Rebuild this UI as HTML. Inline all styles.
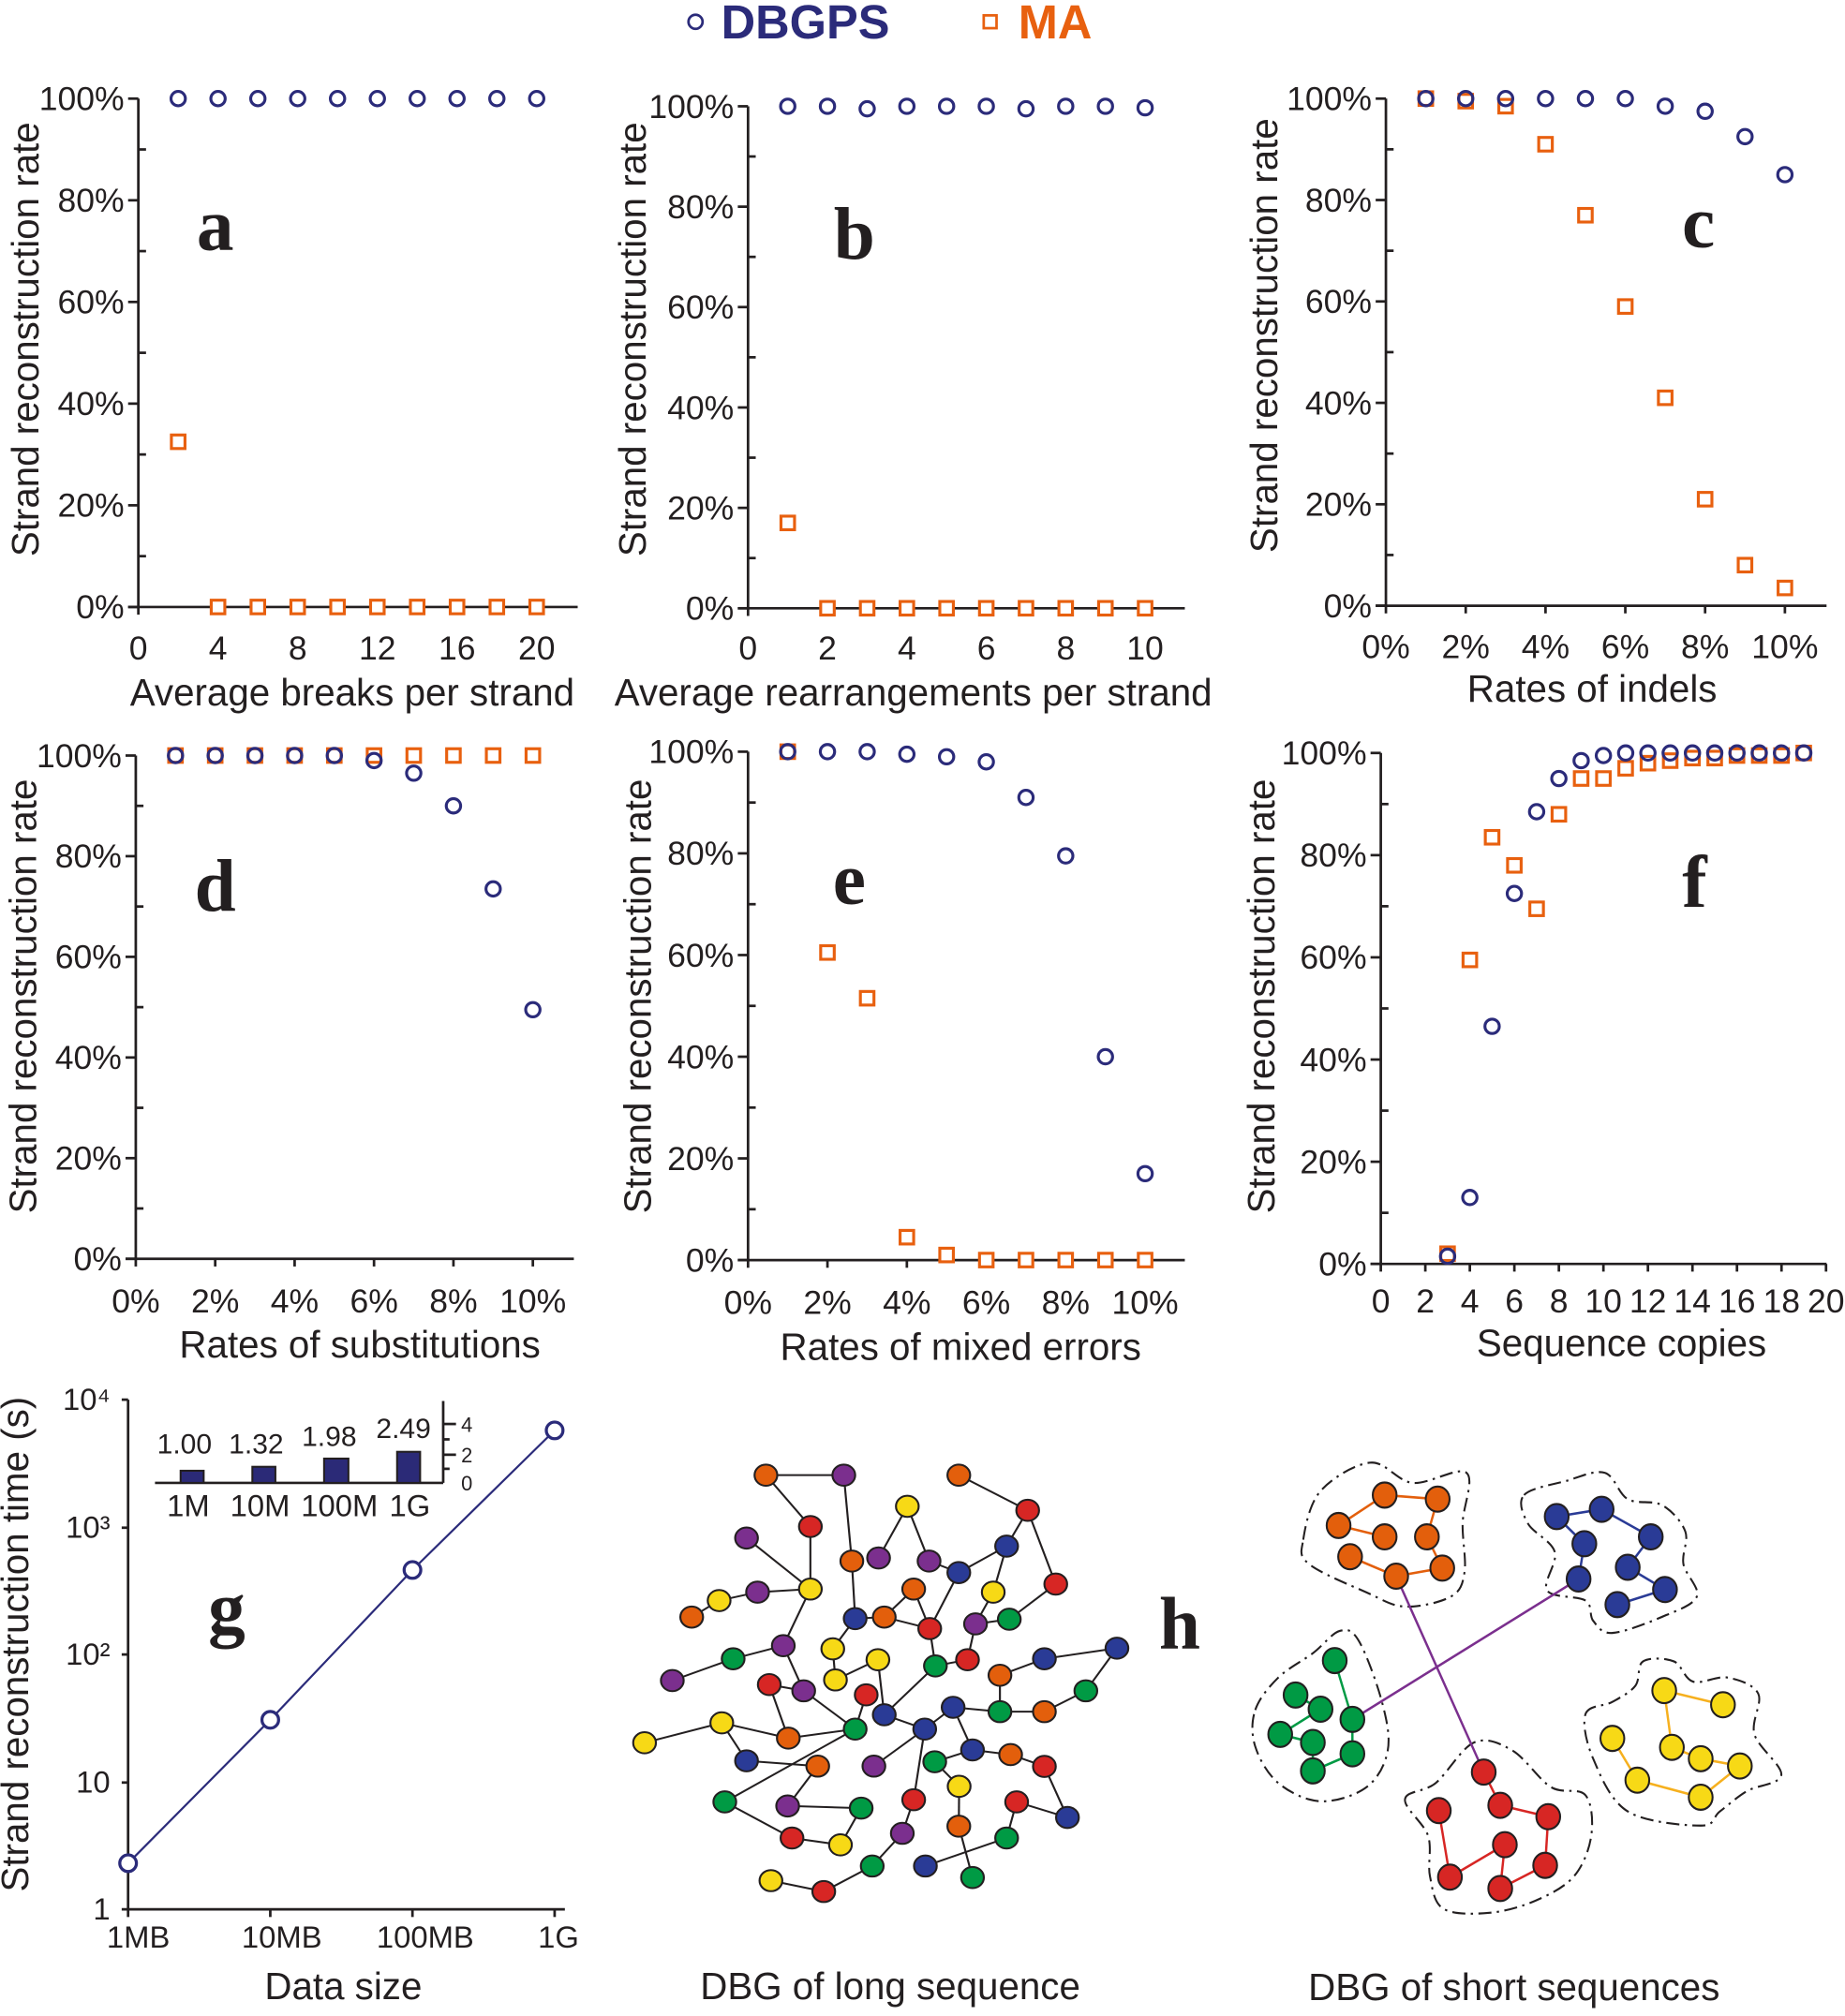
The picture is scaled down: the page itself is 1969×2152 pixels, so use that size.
<!DOCTYPE html>
<html><head><meta charset="utf-8"><style>
html,body{margin:0;padding:0;background:#fff}
svg{display:block}
text{font-family:"Liberation Sans",sans-serif;fill:#231f20}
.t{font-size:26px}
.at{font-size:29.5px}
.yl{font-size:29.5px}
.lt{font-family:"Liberation Serif",serif;font-weight:bold;font-size:58px}
</style></head><body>
<svg id="s" width="1969" height="2152" viewBox="0 0 1440.4 1574.3" xmlns="http://www.w3.org/2000/svg">
<g id="plots"></g>
<!-- legend -->
<circle cx="543" cy="17" r="5.5" fill="none" stroke="#2b2b7a" stroke-width="2"/>
<text x="563" y="30" style="font-size:37px;font-weight:bold;fill:#2b2b7a">DBGPS</text>
<rect x="768" y="12" width="10" height="10" fill="none" stroke="#e8600f" stroke-width="2"/>
<text x="795" y="30" style="font-size:37px;font-weight:bold;fill:#e8600f">MA</text>

<!-- titles -->
<text class="at" x="275" y="551" text-anchor="middle">Average breaks per strand</text>
<text class="at" x="713" y="551" text-anchor="middle">Average rearrangements per strand</text>
<text class="at" x="1243" y="548" text-anchor="middle">Rates of indels</text>
<text class="at" x="281" y="1060" text-anchor="middle">Rates of substitutions</text>
<text class="at" x="750" y="1062" text-anchor="middle">Rates of mixed errors</text>
<text class="at" x="1266" y="1059" text-anchor="middle">Sequence copies</text>

<text class="yl" transform="translate(30,265) rotate(-90)" text-anchor="middle">Strand reconstruction rate</text>
<text class="yl" transform="translate(504,265) rotate(-90)" text-anchor="middle">Strand reconstruction rate</text>
<text class="yl" transform="translate(997,262) rotate(-90)" text-anchor="middle">Strand reconstruction rate</text>
<text class="yl" transform="translate(28,778) rotate(-90)" text-anchor="middle">Strand reconstruction rate</text>
<text class="yl" transform="translate(508,778) rotate(-90)" text-anchor="middle">Strand reconstruction rate</text>
<text class="yl" transform="translate(995,778) rotate(-90)" text-anchor="middle">Strand reconstruction rate</text>

<text class="lt" x="168" y="195" text-anchor="middle">a</text>
<text class="lt" x="667" y="202" text-anchor="middle">b</text>
<text class="lt" x="1326" y="193" text-anchor="middle">c</text>
<text class="lt" x="168" y="711" text-anchor="middle">d</text>
<text class="lt" x="663" y="706" text-anchor="middle">e</text>
<text class="lt" x="1323" y="708" text-anchor="middle">f</text>

<g class="t" id="tl"></g>

<!-- panel g -->
<g stroke="#231f20" stroke-width="2" fill="none">
<line x1="100" y1="1093" x2="100" y2="1491"/>
<line x1="95" y1="1491" x2="441" y2="1491"/>
<line x1="95" y1="1093" x2="100" y2="1093"/><line x1="95" y1="1193" x2="100" y2="1193"/>
<line x1="95" y1="1292" x2="100" y2="1292"/><line x1="95" y1="1392" x2="100" y2="1392"/>
<line x1="100" y1="1491" x2="100" y2="1497"/><line x1="211" y1="1491" x2="211" y2="1497"/>
<line x1="322" y1="1491" x2="322" y2="1497"/><line x1="433" y1="1491" x2="433" y2="1497"/>
<line x1="121" y1="1158" x2="346" y2="1158"/>
<line x1="346" y1="1094" x2="346" y2="1158"/>
<line x1="346" y1="1112" x2="356" y2="1112"/><line x1="346" y1="1136" x2="356" y2="1136"/>
<line x1="346" y1="1124" x2="351" y2="1124"/><line x1="346" y1="1147" x2="351" y2="1147"/>
</g>
<g fill="#2b2a77" stroke="#231f20" stroke-width="1.5">
<rect x="141" y="1148.5" width="18" height="9.5"/>
<rect x="197" y="1145.4" width="18" height="12.6"/>
<rect x="253" y="1139" width="19" height="19"/>
<rect x="310" y="1133.7" width="18" height="24.3"/>
</g>
<polyline points="100,1455 211,1343 322,1226 433,1117" fill="none" stroke="#2b2b7a" stroke-width="1.6"/>
<g fill="#fff" stroke="#2b2b7a" stroke-width="2.4">
<circle cx="100" cy="1455" r="6.5"/><circle cx="211" cy="1343" r="6.5"/>
<circle cx="322" cy="1226" r="6.5"/><circle cx="433" cy="1117" r="6.5"/>
</g>
<g style="font-size:24px">
<text x="86" y="1101" text-anchor="end">10⁴</text>
<text x="86" y="1201" text-anchor="end">10³</text>
<text x="86" y="1300" text-anchor="end">10²</text>
<text x="86" y="1400" text-anchor="end">10</text>
<text x="86" y="1499" text-anchor="end">1</text>
<text x="108" y="1521" text-anchor="middle">1MB</text>
<text x="220" y="1521" text-anchor="middle">10MB</text>
<text x="332" y="1521" text-anchor="middle">100MB</text>
<text x="436" y="1521" text-anchor="middle">1G</text>
</g>
<g style="font-size:22px">
<text x="144" y="1135" text-anchor="middle">1.00</text>
<text x="200" y="1135" text-anchor="middle">1.32</text>
<text x="257" y="1129" text-anchor="middle">1.98</text>
<text x="315" y="1123" text-anchor="middle">2.49</text>
</g>
<g style="font-size:24px">
<text x="147" y="1184" text-anchor="middle">1M</text>
<text x="203" y="1184" text-anchor="middle">10M</text>
<text x="265" y="1184" text-anchor="middle">100M</text>
<text x="320" y="1184" text-anchor="middle">1G</text>
</g>
<g style="font-size:16px">
<text x="360" y="1118">4</text><text x="360" y="1142">2</text><text x="360" y="1164">0</text>
</g>
<text class="at" x="268" y="1561" text-anchor="middle">Data size</text>
<text class="yl" transform="translate(22,1284) rotate(-90)" text-anchor="middle">Strand reconstruction time (s)</text>
<text class="lt" x="177" y="1275" text-anchor="middle">g</text>
<text class="lt" x="921" y="1287" text-anchor="middle">h</text>
<text class="at" x="695" y="1561" text-anchor="middle">DBG of long sequence</text>
<text class="at" x="1182" y="1562" text-anchor="middle">DBG of short sequences</text>

<g id="g1" transform="matrix(0.261 0 0 0.243 480.5 1121.1)"></g>
<g id="g2" transform="matrix(0.2998 0 0 0.3167 953 1063)"></g>
</svg>
<script>
var NS="http://www.w3.org/2000/svg";
function el(p,n,a){var e=document.createElementNS(NS,n);for(var k in a)e.setAttribute(k,a[k]);p.appendChild(e);return e;}
var P=document.getElementById('plots'),TL=document.getElementById('tl');
var NAV="#2b2b7a",OR="#e8600f";
function r(a,b,s){var o=[];for(var i=a;i<=b;i+=(s||1))o.push(i);return o;}
var panels=[
 {x0:108,y1:77,y0:474,xe:451,xm:function(v){return 108+15.55*v},xt:[0,4,8,12,16,20],pct:0,lb:514,
  d:r(2,20,2).map(function(x){return [x,100]}),m:[[2,32.5]].concat(r(4,20,2).map(function(x){return[x,0]}))},
 {x0:584,y1:83,y0:475,xe:925,xm:function(v){return 584+31*v},xt:[0,2,4,6,8,10],pct:0,lb:514,
  d:[[1,100],[2,100],[3,99.5],[4,100],[5,100],[6,100],[7,99.5],[8,100],[9,100],[10,99.7]],m:[[1,17]].concat(r(2,10).map(function(x){return[x,0]}))},
 {x0:1082,y1:77,y0:473,xe:1426,xm:function(v){return 1082+31.15*v},xt:[0,2,4,6,8,10],pct:1,lb:513,
  d:[[1,100],[2,100],[3,100],[4,100],[5,100],[6,100],[7,98.5],[8,97.5],[9,92.5],[10,85]],
  m:[[1,100],[2,99.5],[3,98.5],[4,91],[5,77],[6,59],[7,41],[8,21],[9,8],[10,3.5]]},
 {x0:106,y1:590,y0:983,xe:448,xm:function(v){return 106+31*v},xt:[0,2,4,6,8,10],pct:1,lb:1024,
  d:[[1,100],[2,100],[3,100],[4,100],[5,100],[6,99],[7,96.5],[8,90],[9,73.5],[10,49.5]],
  m:r(1,10).map(function(x){return[x,100]})},
 {x0:584,y1:587,y0:984,xe:925,xm:function(v){return 584+31*v},xt:[0,2,4,6,8,10],pct:1,lb:1025,
  d:[[1,100],[2,100],[3,100],[4,99.5],[5,99],[6,98],[7,91],[8,79.5],[9,40],[10,17]],
  m:[[1,100],[2,60.5],[3,51.5],[4,4.5],[5,1],[6,0],[7,0],[8,0],[9,0],[10,0]]},
 {x0:1078,y1:588,y0:987,xe:1426,xm:function(v){return 1078+17.38*v},xt:r(0,20,2),pct:0,lb:1024,
  d:[[3,1.5],[4,13],[5,46.5],[6,72.5],[7,88.5],[8,95],[9,98.5],[10,99.5]].concat(r(11,19).map(function(x){return[x,100]})),
  m:[[3,2],[4,59.5],[5,83.5],[6,78],[7,69.5],[8,88],[9,95],[10,95],[11,97],[12,98],[13,98.5],[14,99],[15,99],[16,99.5],[17,99.5],[18,99.5],[19,100]]}
];
panels.forEach(function(p){
 var ym=function(v){return p.y0-(p.y0-p.y1)*v/100};
 var g=el(P,'g',{stroke:'#231f20','stroke-width':2,fill:'none'});
 el(g,'line',{x1:p.x0,y1:p.y1,x2:p.x0,y2:p.y0});
 el(g,'line',{x1:p.x0-8,y1:p.y0,x2:p.xe,y2:p.y0});
 for(var k=0;k<=100;k+=10){
  if(k%20==0){el(g,'line',{x1:p.x0-8,y1:ym(k),x2:p.x0,y2:ym(k)});
   var t=el(TL,'text',{x:p.x0-11,y:ym(k)+9,'text-anchor':'end'});t.textContent=k+'%';}
  else el(g,'line',{x1:p.x0,y1:ym(k),x2:p.x0+6,y2:ym(k)});
 }
 p.xt.forEach(function(v){var x=p.xm(v);el(g,'line',{x1:x,y1:p.y0,x2:x,y2:p.y0+6});
  var t=el(TL,'text',{x:x,y:p.lb+1,'text-anchor':'middle'});t.textContent=v+(p.pct?'%':'');});
 p.m.forEach(function(d){el(P,'rect',{x:p.xm(d[0])-5.3,y:ym(d[1])-5.3,width:10.6,height:10.6,fill:'#fff',stroke:OR,'stroke-width':2.3});});
 p.d.forEach(function(d){el(P,'circle',{cx:p.xm(d[0]),cy:ym(d[1]),r:5.6,fill:'none',stroke:NAV,'stroke-width':2.3});});
});
var C={o:"#e35f0c",p:"#7b2f8e",y:"#f7d916",r:"#d72624",b:"#2a3b96",g:"#009a44"};
var N={A:[450,127,'o'],B:[683,127,'p'],C:[1027,127,'o'],D:[873,227,'y'],E:[1233,240,'r'],F:[583,292,'r'],G:[392,329,'p'],H:[707,403,'o'],I:[787,393,'p'],J:[938,403,'p'],K:[1170,355,'b'],L:[1027,440,'b'],M:[892,493,'o'],N:[1130,503,'y'],O:[1317,477,'r'],P:[583,493,'y'],Q:[425,503,'p'],R:[310,530,'y'],S:[228,583,'o'],T:[717,588,'b'],U:[804,583,'o'],V:[940,620,'r'],W:[1077,605,'p'],X:[1178,590,'g'],Y:[502,675,'p'],Z:[650,685,'y'],AA:[352,717,'g'],AB:[785,720,'y'],AC:[957,740,'g'],AD:[1053,720,'r'],AE:[1283,717,'b'],AF:[1500,683,'b'],AG:[1150,770,'o'],AH:[170,787,'p'],AI:[460,800,'r'],AJ:[563,820,'p'],AK:[658,785,'y'],AL:[750,833,'r'],AM:[1407,820,'g'],AN:[804,897,'b'],AO:[1010,873,'b'],AP:[1150,887,'g'],AQ:[1283,887,'o'],AR:[318,923,'y'],AS:[717,943,'g'],AT:[925,943,'b'],AU:[517,972,'o'],AV:[87,987,'y'],AW:[392,1045,'b'],AX:[605,1062,'o'],AY:[773,1062,'p'],AZ:[955,1048,'g'],BA:[1068,1010,'b'],BB:[1182,1025,'o'],BC:[1283,1063,'r'],BD:[1028,1127,'y'],BE:[327,1177,'g'],BF:[515,1190,'p'],BG:[735,1197,'g'],BH:[892,1170,'r'],BI:[1200,1177,'r'],BJ:[1352,1227,'b'],BK:[1027,1255,'o'],BL:[858,1278,'p'],BM:[528,1293,'r'],BN:[673,1315,'y'],BO:[1170,1293,'g'],BP:[768,1383,'g'],BQ:[927,1383,'b'],BR:[1068,1420,'g'],BS:[465,1430,'y'],BT:[623,1465,'r']};
var E="A-B A-F B-H F-P G-P Q-P R-Q S-R P-Y Y-AA AA-AH Y-AJ AI-AJ AJ-AS H-T T-Z Z-AK AK-AB AB-AN T-U U-M M-V U-V D-I D-J J-L L-V L-K K-E C-E E-O K-N N-W W-X X-O W-AD V-AC AC-AD AC-AN AN-AT AL-AS AT-AO AO-AP AP-AQ AQ-AM AM-AF AF-AE AE-AG AG-AP AI-AU AR-AU AU-AS AR-AV AR-AW AW-AX AX-BF BF-BG BG-BN BN-BM BM-BE BE-AS AT-AY AT-BH BH-BL BL-BP BP-BT BT-BS AO-BA BA-AZ AZ-BD BD-BK BK-BR BA-BB BB-BC BC-BJ BJ-BI BI-BO BO-BQ".split(' ');
var G1=document.getElementById('g1');
E.forEach(function(e){var a=N[e.split('-')[0]],b=N[e.split('-')[1]];el(G1,'line',{x1:a[0],y1:a[1],x2:b[0],y2:b[1],stroke:'#231f20','stroke-width':6});});
for(var k in N){var n=N[k];el(G1,'circle',{cx:n[0],cy:n[1],r:34,fill:C[n[2]],stroke:'#231f20','stroke-width':6});}
var G2=document.getElementById('g2');
var blobs=[
 [[215,440],[260,320],[390,250],[500,300],[640,275],[630,400],[635,520],[600,580],[480,605],[380,570],[230,500]],
 [[790,330],[900,295],[1000,275],[1060,340],[1150,355],[1210,420],[1205,500],[1240,580],[1150,630],[1020,670],[970,640],[950,590],[850,565],[870,470],[800,400]],
 [[90,860],[150,780],[240,720],[310,665],[360,690],[420,840],[435,960],[380,1050],[260,1085],[150,1040],[90,950]],
 [[950,870],[1020,840],[1080,800],[1100,740],[1180,740],[1230,790],[1320,780],[1400,820],[1390,920],[1460,1020],[1370,1060],[1300,1110],[1250,1145],[1060,1110],[970,980]],
 [[480,1080],[560,1040],[660,940],[760,960],[860,1050],[950,1070],[965,1170],[920,1270],[820,1330],[700,1360],[580,1350],[545,1270],[540,1170]]];
blobs.forEach(function(pts){var n=pts.length,d='';
 for(var i=0;i<n;i++){var p0=pts[(i-1+n)%n],p1=pts[i],p2=pts[(i+1)%n],p3=pts[(i+2)%n];
  if(i==0)d+='M'+p1[0]+','+p1[1];
  d+=' C'+(p1[0]+(p2[0]-p0[0])/6)+','+(p1[1]+(p2[1]-p0[1])/6)+' '+(p2[0]-(p3[0]-p1[0])/6)+','+(p2[1]-(p3[1]-p1[1])/6)+' '+p2[0]+','+p2[1];}
 el(G2,'path',{d:d+'Z',fill:'none',stroke:'#231f20','stroke-width':5,'stroke-dasharray':'34 14 6 14'});});
el(G2,'line',{x1:457,y1:530,x2:685,y2:1013,stroke:'#7b2f8e','stroke-width':6});
el(G2,'line',{x1:932,y1:537,x2:343,y2:883,stroke:'#7b2f8e','stroke-width':6});
var CL=[
 ['o',[[427,330],[565,340],[307,405],[427,433],[537,433],[337,482],[457,530],[577,510]],[[2,0],[0,1],[1,4],[4,7],[7,6],[6,5],[2,3]]],
 ['b',[[875,383],[992,365],[947,450],[1120,433],[932,537],[1060,508],[1157,563],[1033,600]],[[0,1],[1,3],[3,5],[5,6],[6,7],[0,2],[2,4]]],
 ['g',[[297,738],[195,823],[260,858],[343,883],[155,920],[240,940],[343,968],[240,1010]],[[0,3],[3,6],[6,7],[7,5],[5,4],[4,2],[2,1]]],
 ['y',[[1155,812],[1308,847],[1020,930],[1175,952],[1250,980],[1352,998],[1085,1033],[1250,1075]],[[0,1],[0,3],[3,4],[4,5],[5,7],[7,6],[6,2]]],
 ['r',[[685,1013],[568,1108],[728,1095],[853,1123],[740,1192],[597,1272],[845,1243],[728,1300]],[[0,2],[2,3],[3,6],[6,7],[7,4],[4,5],[5,1]]]];
var LC={o:"#e35f0c",b:"#2a3b96",g:"#009a44",y:"#f6b01e",r:"#d72624"};
CL.forEach(function(c){c[2].forEach(function(e){var a=c[1][e[0]],b=c[1][e[1]];el(G2,'line',{x1:a[0],y1:a[1],x2:b[0],y2:b[1],stroke:LC[c[0]],'stroke-width':6});});
 c[1].forEach(function(p){el(G2,'circle',{cx:p[0],cy:p[1],r:31,fill:C[c[0]],stroke:'#231f20','stroke-width':5});});});
</script>
</body></html>
